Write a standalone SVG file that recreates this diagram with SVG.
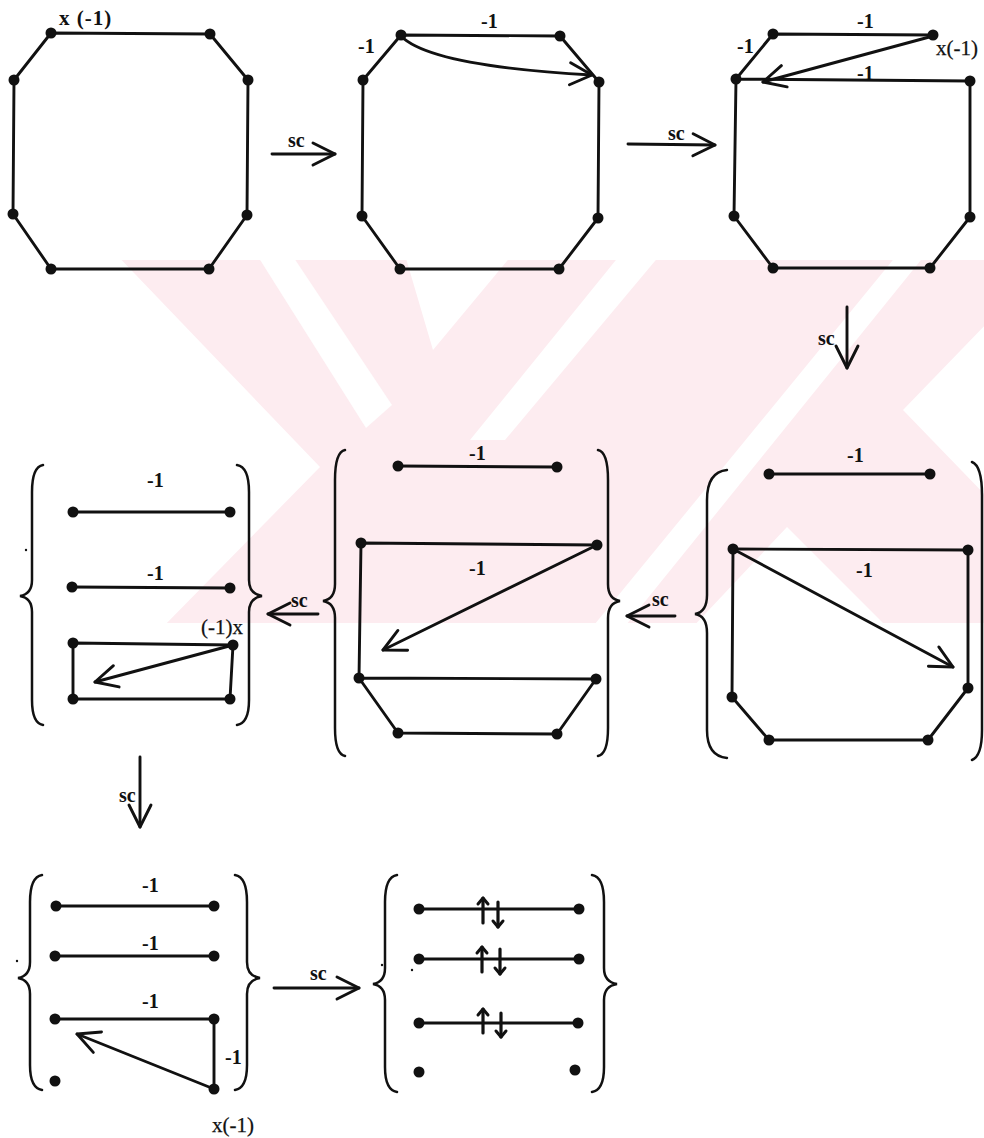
<svg xmlns="http://www.w3.org/2000/svg" width="984" height="1138" viewBox="0 0 984 1138">
<style>
.e{fill:none;stroke:#111;stroke-width:2.9;stroke-linejoin:round;stroke-linecap:round}
.a{fill:none;stroke:#111;stroke-width:2.9;stroke-linecap:round;marker-end:url(#ah)}
.s{fill:none;stroke:#111;stroke-width:3.2;stroke-linecap:round;marker-end:url(#sh)}
.br{fill:none;stroke:#111;stroke-width:2.5;stroke-linecap:round}
.d{fill:#111}
.t{font-family:"Liberation Serif","Times New Roman",serif;font-size:20px;font-weight:bold;fill:#111}
.tr{font-family:"Liberation Serif","Times New Roman",serif;font-size:21px;fill:#111;stroke:#111;stroke-width:0.25}
.wm{fill:#fdecf0}
.wh{fill:#fff}
</style>
<defs>
<marker id="ah" markerUnits="userSpaceOnUse" markerWidth="40" markerHeight="40" refX="0" refY="0" viewBox="-30 -20 40 40" orient="auto" overflow="visible">
<path d="M-22,-11 L0,0 L-22,11" fill="none" stroke="#111" stroke-width="2.9" stroke-linecap="round" stroke-linejoin="round"/>
</marker>
<marker id="sh" markerUnits="userSpaceOnUse" markerWidth="16" markerHeight="16" refX="0" refY="0" viewBox="-8 -8 16 16" orient="auto" overflow="visible">
<path d="M-6,-5 L0,0 L-6,5" fill="none" stroke="#111" stroke-width="3" stroke-linecap="round" stroke-linejoin="round"/>
</marker>
<clipPath id="wmc"><rect x="112" y="260" width="872" height="363"/></clipPath>
</defs>
<rect width="984" height="1138" fill="#fff"/>
<g id="watermark" clip-path="url(#wmc)">
<rect class="wm" x="112" y="260" width="872" height="363"/>
<polygon class="wh" points="0,250 112,250 320,467 160,630 0,630"/>
<polygon class="wh" points="257,255 292,255 392,405 366,428"/>
<polygon class="wh" points="405,255 512,255 433,350"/>
<polygon class="wh" points="620,255 660,255 505,440 470,440"/>
<polygon class="wh" points="897,255 925,255 622,630 590,630"/>
<polygon class="wh" points="903,410 990,320 990,500"/>
<polygon class="wh" points="787,527 690,630 890,630"/>
</g>

<g id="connectors">
<line class="a" x1="272" y1="154" x2="335" y2="154"/>
<line class="a" x1="628" y1="144" x2="715" y2="145"/>
<line class="a" x1="847" y1="307" x2="847" y2="368"/>
<line class="a" x1="675" y1="616" x2="627" y2="616"/>
<line class="a" x1="318" y1="614" x2="268" y2="614"/>
<line class="a" x1="140" y1="757" x2="140" y2="827"/>
<line class="a" x1="274" y1="988" x2="359" y2="988"/>
<text class="t" x="288" y="147">sc</text>
<text class="t" x="668" y="140">sc</text>
<text class="t" x="818" y="345">sc</text>
<text class="t" x="652" y="606">sc</text>
<text class="t" x="291" y="607">sc</text>
<text class="t" x="119" y="802">sc</text>
<text class="t" x="310" y="980">sc</text>
</g>

<g id="n1">
<polygon class="e" points="51,33 210,34 248,80 247,215 209,269 51,269 13,214 14,80"/>
<g class="d"><circle cx="51" cy="33" r="5.5"/><circle cx="210" cy="34" r="5.5"/><circle cx="248" cy="80" r="5.5"/><circle cx="247" cy="215" r="5.5"/><circle cx="209" cy="269" r="5.5"/><circle cx="51" cy="269" r="5.5"/><circle cx="13" cy="214" r="5.5"/><circle cx="14" cy="80" r="5.5"/></g>
<text class="t" x="59" y="25" style="font-size:21px;letter-spacing:1px">x (-1)</text>
</g>

<g id="n2">
<polygon class="e" points="401,35 560,36 599,82 598,218 559,269 400,269 362,216 363,80"/>
<path class="a" d="M401,36 Q430,66 592,75"/>
<g class="d"><circle cx="401" cy="35" r="5.5"/><circle cx="560" cy="36" r="5.5"/><circle cx="599" cy="82" r="5.5"/><circle cx="598" cy="218" r="5.5"/><circle cx="559" cy="269" r="5.5"/><circle cx="400" cy="269" r="5.5"/><circle cx="362" cy="216" r="5.5"/><circle cx="363" cy="80" r="5.5"/></g>
<text class="t" x="358" y="53">-1</text>
<text class="t" x="481" y="28">-1</text>
</g>

<g id="n3">
<path class="e" d="M933,35 L773,34 L736,79 L970,81 L970,217 L930,268 L773,268 L734,216 L736,79"/>
<line class="a" x1="933" y1="36" x2="763" y2="82"/>
<g class="d"><circle cx="773" cy="34" r="5.5"/><circle cx="933" cy="35" r="5.5"/><circle cx="736" cy="79" r="5.5"/><circle cx="970" cy="81" r="5.5"/><circle cx="970" cy="217" r="5.5"/><circle cx="930" cy="268" r="5.5"/><circle cx="773" cy="268" r="5.5"/><circle cx="734" cy="216" r="5.5"/></g>
<text class="t" x="857" y="28">-1</text>
<text class="t" x="737" y="53">-1</text>
<text class="t" x="857" y="80">-1</text>
<text class="tr" x="936" y="55">x(-1)</text>
</g>

<g id="n4">
<path class="br" d="M727,470 Q707,472 707,500 L707,595 Q707,612 695,614 Q707,616 707,633 L707,730 Q707,756 727,758"/>
<path class="br" d="M972,462 Q982,466 982,495 L982,730 Q982,756 972,760"/>
<line class="e" x1="769" y1="474" x2="930" y2="474"/>
<polygon class="e" points="733,549 968,550 968,688 928,740 769,740 732,697"/>
<line class="a" x1="733" y1="549" x2="953" y2="667"/>
<g class="d"><circle cx="769" cy="474" r="5.5"/><circle cx="930" cy="474" r="5.5"/><circle cx="733" cy="549" r="5.5"/><circle cx="968" cy="550" r="5.5"/><circle cx="968" cy="688" r="5.5"/><circle cx="928" cy="740" r="5.5"/><circle cx="769" cy="740" r="5.5"/><circle cx="732" cy="697" r="5.5"/></g>
<text class="t" x="847" y="462">-1</text>
<text class="t" x="856" y="577">-1</text>
</g>

<g id="n5">
<path class="br" d="M345,450 Q335,452 335,480 L335,584 Q335,599 323,601 Q335,603 335,618 L335,728 Q335,754 345,756"/>
<path class="br" d="M598,450 Q608,452 608,480 L608,584 Q608,599 620,601 Q608,603 608,618 L608,728 Q608,754 598,756"/>
<line class="e" x1="398" y1="466" x2="557" y2="467"/>
<path class="e" d="M597,545 L361,543 L359,678 L596,679 L557,734 L398,733 L359,678"/>
<line class="a" x1="597" y1="545" x2="383" y2="650"/>
<g class="d"><circle cx="398" cy="466" r="5.5"/><circle cx="557" cy="467" r="5.5"/><circle cx="361" cy="543" r="5.5"/><circle cx="597" cy="545" r="5.5"/><circle cx="359" cy="678" r="5.5"/><circle cx="596" cy="679" r="5.5"/><circle cx="398" cy="733" r="5.5"/><circle cx="557" cy="734" r="5.5"/></g>
<text class="t" x="469" y="460">-1</text>
<text class="t" x="469" y="575">-1</text>
</g>

<g id="n6">
<path class="br" d="M43,465 Q32,467 32,492 L32,580 Q32,594 20,596 Q32,598 32,612 L32,700 Q32,723 43,725"/>
<path class="br" d="M237,465 Q249,467 249,492 L249,580 Q249,594 262,596 Q249,598 249,612 L249,700 Q249,723 237,725"/>
<line class="e" x1="73" y1="512" x2="230" y2="512"/>
<line class="e" x1="72" y1="587" x2="230" y2="588"/>
<polygon class="e" points="233,645 73,643 73,699 230,699"/>
<line class="a" x1="233" y1="645" x2="95" y2="682"/>
<g class="d"><circle cx="73" cy="512" r="5.5"/><circle cx="230" cy="512" r="5.5"/><circle cx="72" cy="587" r="5.5"/><circle cx="230" cy="588" r="5.5"/><circle cx="73" cy="643" r="5.5"/><circle cx="233" cy="645" r="5.5"/><circle cx="73" cy="699" r="5.5"/><circle cx="230" cy="699" r="5.5"/><circle cx="26" cy="550" r="1.2"/></g>
<text class="t" x="147" y="487">-1</text>
<text class="t" x="147" y="580">-1</text>
<text class="tr" x="201" y="634">(-1)x</text>
</g>

<g id="n7">
<path class="br" d="M42,875 Q30,877 30,902 L30,962 Q30,976 18,978 Q30,980 30,994 L30,1065 Q30,1088 42,1090"/>
<path class="br" d="M235,875 Q247,877 247,902 L247,962 Q247,976 260,978 Q247,980 247,994 L247,1065 Q247,1088 235,1090"/>
<line class="e" x1="56" y1="906" x2="214" y2="906"/>
<line class="e" x1="55" y1="956" x2="214" y2="956"/>
<line class="e" x1="55" y1="1019" x2="214" y2="1019"/>
<line class="e" x1="214" y1="1019" x2="214" y2="1089"/>
<line class="a" x1="214" y1="1089" x2="77" y2="1034"/>
<g class="d"><circle cx="56" cy="906" r="5.5"/><circle cx="214" cy="906" r="5.5"/><circle cx="55" cy="956" r="5.5"/><circle cx="214" cy="956" r="5.5"/><circle cx="55" cy="1019" r="5.5"/><circle cx="214" cy="1019" r="5.5"/><circle cx="55" cy="1081" r="5.5"/><circle cx="214" cy="1089" r="5.5"/><circle cx="17" cy="961" r="1.2"/></g>
<text class="t" x="142" y="892">-1</text>
<text class="t" x="142" y="950">-1</text>
<text class="t" x="142" y="1008">-1</text>
<text class="t" x="225" y="1064">-1</text>
<text class="tr" x="212" y="1132">x(-1)</text>
</g>

<g id="n8">
<path class="br" d="M397,875 Q385,877 385,902 L385,968 Q385,982 373,984 Q385,986 385,1000 L385,1067 Q385,1090 397,1092"/>
<path class="br" d="M592,875 Q604,877 604,902 L604,968 Q604,982 617,984 Q604,986 604,1000 L604,1067 Q604,1090 592,1092"/>
<line class="e" x1="419" y1="909" x2="579" y2="909"/>
<line class="e" x1="419" y1="959" x2="579" y2="959"/>
<line class="e" x1="419" y1="1023" x2="578" y2="1023"/>
<g class="d"><circle cx="419" cy="909" r="5.5"/><circle cx="579" cy="909" r="5.5"/><circle cx="419" cy="959" r="5.5"/><circle cx="579" cy="959" r="5.5"/><circle cx="419" cy="1023" r="5.5"/><circle cx="578" cy="1023" r="5.5"/><circle cx="419" cy="1072" r="5.5"/><circle cx="575" cy="1070" r="5.5"/><circle cx="382" cy="965" r="1.2"/><circle cx="412" cy="970" r="1.2"/></g>
<line class="s" x1="483" y1="923" x2="483" y2="898"/>
<line class="s" x1="498" y1="902" x2="498" y2="927"/>
<line class="s" x1="482" y1="972" x2="482" y2="947"/>
<line class="s" x1="500" y1="949" x2="500" y2="974"/>
<line class="s" x1="483" y1="1033" x2="483" y2="1009"/>
<line class="s" x1="501" y1="1013" x2="501" y2="1037"/>
</g>
</svg>
